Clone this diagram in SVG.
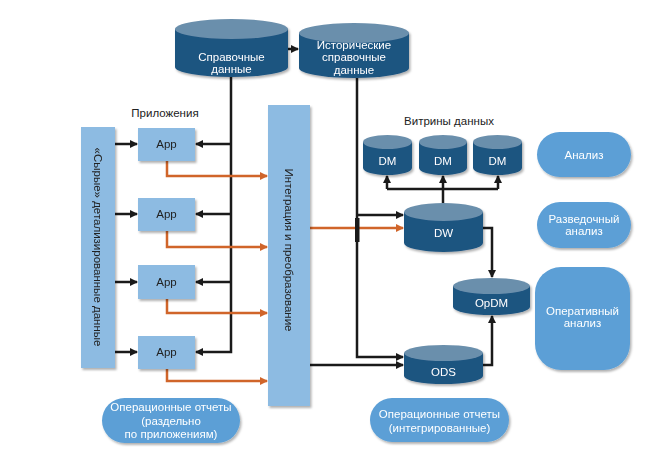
<svg xmlns="http://www.w3.org/2000/svg" width="667" height="457" viewBox="0 0 667 457">
<style>
text{font-family:"Liberation Sans",Arial,sans-serif;font-size:11.5px;text-anchor:middle}
.cb{fill:#1e5480}
.ct{fill:#6b8fac}
.wt{fill:#ffffff}
.dk{fill:#222222}
.lb{fill:#8dbbe2}
.ov{fill:#5b9fd6}
.bl{fill:none;stroke:#1a1a1a;stroke-width:2.5}
.or{fill:none;stroke:#d0652a;stroke-width:2.5}
</style>
<defs>
<marker id="ah" markerWidth="8" markerHeight="8" refX="7" refY="4" orient="auto" markerUnits="userSpaceOnUse"><path d="M0,0 L8,4 L0,8 Z" fill="#1a1a1a"/></marker>
<marker id="ao" markerWidth="8" markerHeight="8" refX="7" refY="4" orient="auto" markerUnits="userSpaceOnUse"><path d="M0,0 L8,4 L0,8 Z" fill="#d0652a"/></marker>
<filter id="sh" x="-10%" y="-10%" width="130%" height="130%"><feDropShadow dx="1.5" dy="2" stdDeviation="1.2" flood-color="#000" flood-opacity="0.3"/></filter>
</defs>
<rect width="667" height="457" fill="#ffffff"/>

<g id="connectors">
<path class="bl" d="M288,49 H298" marker-end="url(#ah)"/>
<path class="bl" d="M231,77 V352 H196" marker-end="url(#ah)"/>
<path class="bl" d="M231,144 H196" marker-end="url(#ah)"/>
<path class="bl" d="M231,214 H196" marker-end="url(#ah)"/>
<path class="bl" d="M231,282 H196" marker-end="url(#ah)"/>
<path class="bl" d="M115,144 H137" marker-end="url(#ah)"/>
<path class="bl" d="M115,214 H137" marker-end="url(#ah)"/>
<path class="bl" d="M115,282 H137" marker-end="url(#ah)"/>
<path class="bl" d="M115,352 H137" marker-end="url(#ah)"/>
<path class="or" d="M167,161 V176 H267" marker-end="url(#ao)"/>
<path class="or" d="M167,231 V247 H267" marker-end="url(#ao)"/>
<path class="or" d="M167,299 V313 H267" marker-end="url(#ao)"/>
<path class="or" d="M167,369 V381 H267" marker-end="url(#ao)"/>
<path class="or" d="M310,228 H403" marker-end="url(#ao)"/>
<path class="bl" d="M357,78 V357 H403" marker-end="url(#ah)"/>
<rect x="355" y="218" width="4.5" height="24" fill="#1a1a1a"/>
<path class="bl" d="M357,215 H403" marker-end="url(#ah)"/>
<path class="bl" d="M310,365 H403" marker-end="url(#ah)"/>
<path class="bl" d="M443,203 V189"/>
<path class="bl" d="M387,189 H498"/>
<path class="bl" d="M387,189 V176" marker-end="url(#ah)"/>
<path class="bl" d="M443,189 V176" marker-end="url(#ah)"/>
<path class="bl" d="M498,189 V176" marker-end="url(#ah)"/>
<path class="bl" d="M483,228 H492 V277" marker-end="url(#ah)"/>
<path class="bl" d="M483,365 H492 V316" marker-end="url(#ah)"/>
</g>

<g id="ref-data" filter="url(#sh)">
<path class="cb" d="M175,29 V67 A56.5,10 0 0 0 288,67 V29 Z"/>
<ellipse class="ct" cx="231.5" cy="29" rx="56.5" ry="10"/>
<text class="wt" x="231.5" y="61">Справочные</text>
<text class="wt" x="231.5" y="73">данные</text>
</g>

<g id="hist-ref-data" filter="url(#sh)">
<path class="cb" d="M299,33 V68 A55,10 0 0 0 409,68 V33 Z"/>
<ellipse class="ct" cx="354" cy="33" rx="55" ry="10"/>
<text class="wt" x="354" y="49">Исторические</text>
<text class="wt" x="354" y="61">справочные</text>
<text class="wt" x="354" y="74">данные</text>
</g>

<g id="apps-label"><text class="dk" x="165" y="117" fill="#333">Приложения</text></g>

<g id="raw-data" filter="url(#sh)">
<rect class="lb" x="81" y="127" width="34" height="241"/>
<text class="dk" transform="translate(94,247) rotate(90)">«Сырые» детализированные данные</text>
</g>

<g id="app1" filter="url(#sh)"><rect class="lb" x="138" y="128" width="57" height="33"/><text class="dk" x="166.5" y="148">App</text></g>
<g id="app2" filter="url(#sh)"><rect class="lb" x="138" y="198" width="57" height="33"/><text class="dk" x="166.5" y="218">App</text></g>
<g id="app3" filter="url(#sh)"><rect class="lb" x="138" y="265" width="57" height="34"/><text class="dk" x="166.5" y="286">App</text></g>
<g id="app4" filter="url(#sh)"><rect class="lb" x="138" y="336" width="57" height="33"/><text class="dk" x="166.5" y="356">App</text></g>

<g id="integration" filter="url(#sh)">
<rect class="lb" x="268" y="105" width="42" height="301"/>
<text class="dk" transform="translate(285,250) rotate(90)">Интеграция и преобразование</text>
</g>

<g id="marts-label"><text class="dk" x="449" y="125" fill="#333">Витрины данных</text></g>

<g id="dm1" filter="url(#sh)">
<path class="cb" d="M363,142 V168 A24.5,7 0 0 0 412,168 V142 Z"/>
<ellipse class="ct" cx="387.5" cy="142" rx="24.5" ry="7"/>
<text class="wt" x="387.5" y="165">DM</text>
</g>
<g id="dm2" filter="url(#sh)">
<path class="cb" d="M419,142 V168 A24,7 0 0 0 467,168 V142 Z"/>
<ellipse class="ct" cx="443" cy="142" rx="24" ry="7"/>
<text class="wt" x="443" y="165">DM</text>
</g>
<g id="dm3" filter="url(#sh)">
<path class="cb" d="M473,142 V168 A24.5,7 0 0 0 522,168 V142 Z"/>
<ellipse class="ct" cx="497.5" cy="142" rx="24.5" ry="7"/>
<text class="wt" x="497.5" y="165">DM</text>
</g>

<g id="dw" filter="url(#sh)">
<path class="cb" d="M404,212 V243 A39.5,9 0 0 0 483,243 V212 Z"/>
<ellipse class="ct" cx="443.5" cy="212" rx="39.5" ry="9"/>
<text class="wt" x="443.5" y="237">DW</text>
</g>

<g id="opdm" filter="url(#sh)">
<path class="cb" d="M453,286 V307 A38.5,8 0 0 0 530,307 V286 Z"/>
<ellipse class="ct" cx="491.5" cy="286" rx="38.5" ry="8"/>
<text class="wt" x="491.5" y="307">OpDM</text>
</g>

<g id="ods" filter="url(#sh)">
<path class="cb" d="M404,353 V376 A39.5,8 0 0 0 483,376 V353 Z"/>
<ellipse class="ct" cx="443.5" cy="353" rx="39.5" ry="8"/>
<text class="wt" x="443.5" y="376">ODS</text>
</g>

<g id="analysis" filter="url(#sh)">
<rect class="ov" x="537" y="132" width="94" height="45" rx="22.5"/>
<text class="wt" x="584" y="159">Анализ</text>
</g>
<g id="exploratory" filter="url(#sh)">
<rect class="ov" x="537" y="202" width="94" height="46" rx="23"/>
<text class="wt" x="584" y="223">Разведочный</text>
<text class="wt" x="584" y="235">анализ</text>
</g>
<g id="operational-analysis" filter="url(#sh)">
<rect class="ov" x="535" y="267" width="95" height="103" rx="26"/>
<text class="wt" x="582.5" y="315">Оперативный</text>
<text class="wt" x="582.5" y="327">анализ</text>
</g>

<g id="op-reports-apps" filter="url(#sh)">
<rect class="ov" x="102" y="398" width="138" height="45" rx="22.5"/>
<text class="wt" x="171" y="411">Операционные отчеты</text>
<text class="wt" x="171" y="425">(раздельно</text>
<text class="wt" x="171" y="438">по приложениям)</text>
</g>
<g id="op-reports-int" filter="url(#sh)">
<rect class="ov" x="370" y="398" width="139" height="44" rx="22"/>
<text class="wt" x="439.5" y="418">Операционные отчеты</text>
<text class="wt" x="439.5" y="432">(интегрированные)</text>
</g>
</svg>
